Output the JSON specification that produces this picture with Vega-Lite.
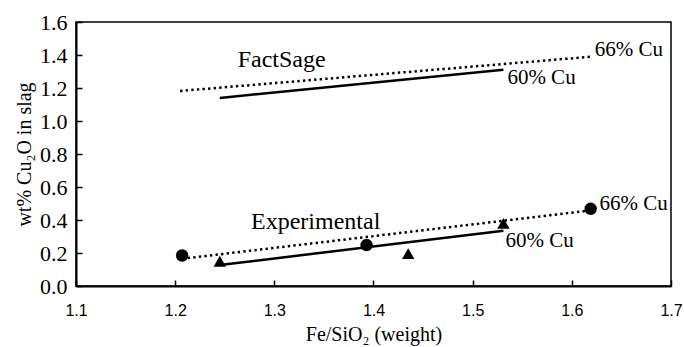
{
  "$schema": "https://vega.github.io/schema/vega-lite/v6.json",
  "width": 595,
  "height": 264,
  "autosize": "none",
  "padding": {"left": 76, "top": 22, "right": 13, "bottom": 61},
  "background": "white",
  "config": {
    "view": {"stroke": "black", "strokeWidth": 1.5},
    "axis": {"grid": false, "domainColor": "black", "tickColor": "black", "labelColor": "black", "titleColor": "black"}
  },
  "datasets": {
    "lines": [
      {"series": "FactSage 66% Cu", "style": "dotted", "x": 1.205, "y": 1.182},
      {"series": "FactSage 66% Cu", "style": "dotted", "x": 1.62, "y": 1.39},
      {"series": "FactSage 60% Cu", "style": "solid", "x": 1.245, "y": 1.14},
      {"series": "FactSage 60% Cu", "style": "solid", "x": 1.531, "y": 1.31},
      {"series": "Experimental 66% Cu", "style": "dotted", "x": 1.207, "y": 0.165},
      {"series": "Experimental 66% Cu", "style": "dotted", "x": 1.619, "y": 0.458},
      {"series": "Experimental 60% Cu", "style": "solid", "x": 1.245, "y": 0.127},
      {"series": "Experimental 60% Cu", "style": "solid", "x": 1.531, "y": 0.335}
    ],
    "points": [
      {"marker": "circle", "x": 1.207, "y": 0.185},
      {"marker": "circle", "x": 1.393, "y": 0.248},
      {"marker": "circle", "x": 1.619, "y": 0.468},
      {"marker": "triangle", "x": 1.245, "y": 0.15},
      {"marker": "triangle", "x": 1.435, "y": 0.196},
      {"marker": "triangle", "x": 1.531, "y": 0.38}
    ],
    "labels": [
      {"text": "FactSage", "kind": "big", "x": 1.263, "y": 1.37},
      {"text": "66% Cu", "kind": "small", "x": 1.623, "y": 1.43},
      {"text": "60% Cu", "kind": "small", "x": 1.535, "y": 1.26},
      {"text": "Experimental", "kind": "big", "x": 1.2765, "y": 0.39},
      {"text": "66% Cu", "kind": "small", "x": 1.628, "y": 0.5},
      {"text": "60% Cu", "kind": "small", "x": 1.533, "y": 0.275}
    ]
  },
  "encoding": {
    "x": {
      "field": "x", "type": "quantitative",
      "scale": {"domain": [1.1, 1.7], "nice": false, "zero": false},
      "axis": {
        "title": "Fe/SiO₂ (weight)",
        "values": [1.1, 1.2, 1.3, 1.4, 1.5, 1.6, 1.7],
        "format": ".1f",
        "labelFont": "Liberation Sans, Arial, sans-serif", "labelFontSize": 16, "labelPadding": 22,
        "titleFont": "Liberation Serif, Times New Roman, serif", "titleFontSize": 20, "titleFontWeight": "normal", "titlePadding": 6,
        "tickSize": -6, "tickWidth": 1.5, "domainWidth": 2,
        "labelFlush": false
      }
    },
    "y": {
      "field": "y", "type": "quantitative",
      "scale": {"domain": [0, 1.6], "nice": false},
      "axis": {
        "title": "wt% Cu₂O in slag",
        "values": [0, 0.2, 0.4, 0.6, 0.8, 1.0, 1.2, 1.4, 1.6],
        "format": ".1f",
        "labelFont": "Liberation Serif, Times New Roman, serif", "labelFontSize": 22, "labelPadding": 15,
        "titleFont": "Liberation Serif, Times New Roman, serif", "titleFontSize": 20, "titleFontWeight": "normal", "titlePadding": 5,
        "tickSize": -6, "tickWidth": 1.5, "domainWidth": 2,
        "labelFlush": false
      }
    }
  },
  "layer": [
    {
      "data": {"name": "lines"},
      "transform": [{"filter": "datum.style === 'dotted'"}],
      "mark": {"type": "line", "color": "black", "strokeWidth": 2.5, "strokeDash": [2.4, 3.2], "strokeCap": "butt"},
      "encoding": {"detail": {"field": "series"}}
    },
    {
      "data": {"name": "lines"},
      "transform": [{"filter": "datum.style === 'solid'"}],
      "mark": {"type": "line", "color": "black", "strokeWidth": 2.5},
      "encoding": {"detail": {"field": "series"}}
    },
    {
      "data": {"name": "points"},
      "mark": {"type": "point", "filled": true, "color": "black", "opacity": 1, "size": 155},
      "encoding": {
        "shape": {"field": "marker", "type": "nominal", "scale": {"domain": ["circle", "triangle"], "range": ["circle", "triangle-up"]}, "legend": null}
      }
    },
    {
      "data": {"name": "labels"},
      "transform": [{"filter": "datum.kind === 'big'"}],
      "mark": {"type": "text", "align": "left", "baseline": "middle", "font": "Liberation Serif, Times New Roman, serif", "fontSize": 24, "color": "black"},
      "encoding": {"text": {"field": "text"}}
    },
    {
      "data": {"name": "labels"},
      "transform": [{"filter": "datum.kind === 'small'"}],
      "mark": {"type": "text", "align": "left", "baseline": "middle", "font": "Liberation Serif, Times New Roman, serif", "fontSize": 21, "color": "black"},
      "encoding": {"text": {"field": "text"}}
    }
  ]
}
